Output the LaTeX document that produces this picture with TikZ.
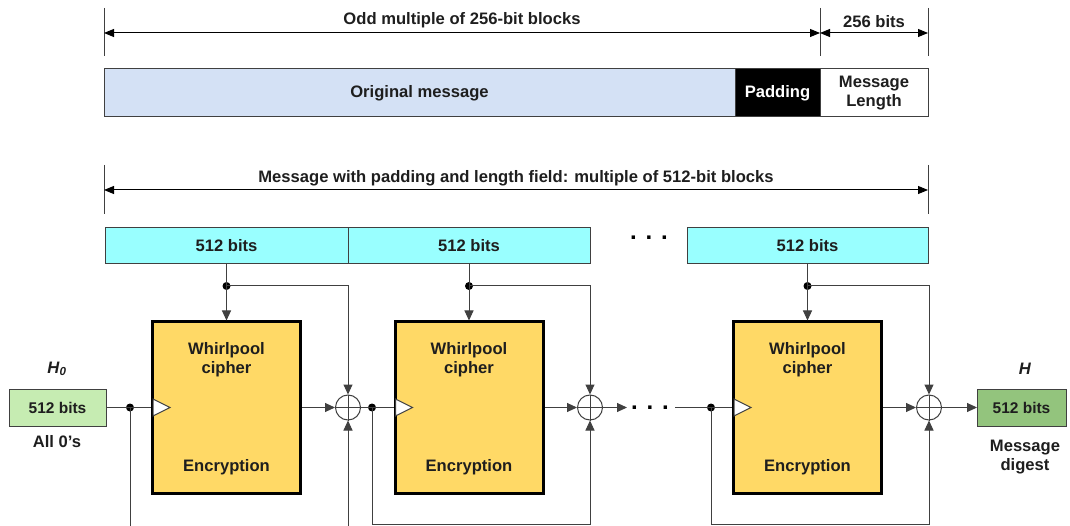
\documentclass[tikz,border=0pt]{standalone}
\usepackage{fontspec}
\setmainfont{Liberation Sans}
\usetikzlibrary{arrows.meta}
\definecolor{msgblue}{RGB}{212,225,245}
\definecolor{blkcyan}{RGB}{153,255,255}
\definecolor{ciph}{RGB}{255,217,102}
\definecolor{hzero}{RGB}{198,236,178}
\definecolor{hfin}{RGB}{147,196,125}
\definecolor{ln}{RGB}{64,64,64}
\definecolor{txt}{RGB}{30,30,30}
\begin{document}
\begin{tikzpicture}[x=1pt,y=-1pt,
  font=\fontsize{16.6}{19}\selectfont\bfseries,
  tip/.style={-{Triangle[length=10pt,width=9pt]}},
  dim/.style={{Triangle[length=10pt,width=8pt]}-{Triangle[length=10pt,width=8pt]}, line width=1pt, draw=black},
  wire/.style={draw=ln, line width=1pt},
  tick/.style={draw=ln, line width=1pt},
  field/.style={draw=ln, line width=1pt, inner sep=0pt, outer sep=0pt, anchor=north west, align=center, text=txt},
  cipher/.style={draw=black, line width=3pt, fill=ciph, minimum width=148pt, minimum height=171pt, inner sep=0pt},
  xor/.style={circle, draw=ln, line width=1pt, minimum size=25pt, inner sep=0pt},
  dot/.style={circle, fill=black, inner sep=0pt, minimum size=8pt},
  lbl/.style={text=txt, align=center, inner sep=0pt},
  gap/.style={text=black, inner sep=0pt, font=\fontsize{24}{24}\selectfont\bfseries},
]
\useasboundingbox (0,0) rectangle (1070,526);
\clip (0,0) rectangle (1070,526);

% ---------- top dimension lines ----------
\coordinate (t1a) at (104,8);  \coordinate (t1b) at (104,56);
\coordinate (t2a) at (820,8);  \coordinate (t2b) at (820,56);
\coordinate (t3a) at (928,8);  \coordinate (t3b) at (928,56);
\draw[tick] (t1a) -- (t1b);
\draw[tick] (t2a) -- (t2b);
\draw[tick] (t3a) -- (t3b);
\coordinate (a1) at (104,33); \coordinate (a2) at (820,33); \coordinate (a3) at (928,33);
\draw[dim] (a1) -- (a2) node[lbl, midway, above=5pt] (la1) {Odd multiple of 256-bit blocks};
\draw[dim] (a2) -- (a3) node[lbl, midway, above=5pt] (la2) {256 bits};

% ---------- message bar ----------
\node[field, fill=msgblue, minimum width=631pt, minimum height=48pt] (orig) at (104,69) {Original message};
\node[field, fill=black, text=white, minimum width=85pt, minimum height=48pt] (pad) at (735,69) {Padding};
\node[field, fill=white, minimum width=108pt, minimum height=48pt] (mlen) at (820,69) {Message\\Length};

% ---------- second dimension line ----------
\coordinate (t4a) at (104,165); \coordinate (t4b) at (104,214);
\coordinate (t5a) at (928,165); \coordinate (t5b) at (928,214);
\draw[tick] (t4a) -- (t4b);
\draw[tick] (t5a) -- (t5b);
\coordinate (a4) at (104,190); \coordinate (a5) at (928,190);
\draw[dim] (a4) -- (a5) node[lbl, midway, above=3pt] (la3) {Message with padding and length field: multiple of 512-bit blocks};

% ---------- 512-bit blocks ----------
\node[field, fill=blkcyan, minimum width=243pt, minimum height=36pt] (b1) at (105,228) {512 bits};
\node[field, fill=blkcyan, minimum width=242pt, minimum height=36pt] (b2) at (348,228) {512 bits};
\node[field, fill=blkcyan, minimum width=241pt, minimum height=36pt] (b3) at (687,228) {512 bits};
\node[gap] (gdots1) at (649,238) {. . .};

% ---------- cipher boxes ----------
\node[cipher] (c1) at (226.5,407.5) {};
\node[cipher] (c2) at (469,407.5) {};
\node[cipher] (c3) at (807.5,407.5) {};
\node[lbl] (c1w) at (226.5,360) {Whirlpool\\cipher};
\node[lbl] (c2w) at (469,360) {Whirlpool\\cipher};
\node[lbl] (c3w) at (807.5,360) {Whirlpool\\cipher};
\node[lbl] (c1e) at (226.5,467) {Encryption};
\node[lbl] (c2e) at (469,467) {Encryption};
\node[lbl] (c3e) at (807.5,467) {Encryption};
\draw[fill=white, draw=ln, line width=1pt] (153,399) -- (170,407.5) -- (153,416) -- cycle;
\draw[fill=white, draw=ln, line width=1pt] (395.5,399) -- (412.5,407.5) -- (395.5,416) -- cycle;
\draw[fill=white, draw=ln, line width=1pt] (734,399) -- (751,407.5) -- (734,416) -- cycle;

% ---------- XOR nodes ----------
\node[xor] (x1) at (348,407.5) {};
\node[xor] (x2) at (590,407.5) {};
\node[xor] (x3) at (929,407.5) {};
\foreach \x in {x1,x2,x3}{
  \draw[wire] (\x.north) -- (\x.south);
  \draw[wire] (\x.west) -- (\x.east);
}

% ---------- input / output ----------
\node[field, fill=hzero, minimum width=97pt, minimum height=37pt] (h0) at (9,389) {\fontsize{15.5}{18}\selectfont 512 bits};
\node[field, fill=hfin, minimum width=89pt, minimum height=37pt] (hf) at (977,389) {\fontsize{15.5}{18}\selectfont 512 bits};
\node[lbl] (h0l) at (57,369) {\textit{H}\textsubscript{\textit{0}}};
\node[lbl] (h0z) at (57,442) {All 0's};
\node[lbl] (hfl) at (1025,369) {\textit{H}};
\node[lbl] (hfd) at (1025,457) {Message\\digest};

% ---------- junction dots ----------
\node[dot] (j1) at (226.5,286) {};
\node[dot] (j2) at (469,286) {};
\node[dot] (j3) at (807.5,286) {};
\node[dot] (d1) at (130,407.5) {};
\node[dot] (d2) at (372,407.5) {};
\node[dot] (d3) at (711,407.5) {};

% ---------- key feeds ----------
\coordinate (r1) at (348,286);
\coordinate (r2) at (590,286);
\coordinate (r3) at (929,286);
\draw[wire] (b1.south) -- (j1.center);
\draw[wire] (b2.south) -- (j2.center);
\draw[wire] (b3.south) -- (j3.center);
\draw[wire, tip] (j1.center) -- (c1.north);
\draw[wire, tip] (j2.center) -- (c2.north);
\draw[wire, tip] (j3.center) -- (c3.north);
\draw[wire, tip] (j1.center) -- (r1) -- (x1.north);
\draw[wire, tip] (j2.center) -- (r2) -- (x2.north);
\draw[wire, tip] (j3.center) -- (r3) -- (x3.north);

% ---------- chaining path ----------
\draw[wire] (h0.east) -- (d1.center) -- (c1.west);
\draw[wire, tip] (c1.east) -- (x1.west);
\draw[wire] (x1.east) -- (d2.center) -- (c2.west);
\draw[wire, tip] (c2.east) -- (x2.west);
\coordinate (g1) at (627,407.5);
\coordinate (g2) at (675,407.5);
\draw[wire, tip] (x2.east) -- (g1);
\node[gap] (gdots2) at (650,407.5) {. . .};
\draw[wire] (g2) -- (d3.center) -- (c3.west);
\draw[wire, tip] (c3.east) -- (x3.west);
\draw[wire, tip] (x3.east) -- (hf.west);

% ---------- feed-forward loops ----------
\coordinate (l1a) at (130,545); \coordinate (l1b) at (348,545);
\coordinate (l2a) at (372,524); \coordinate (l2b) at (590,524);
\coordinate (l3a) at (711,524); \coordinate (l3b) at (929,524);
\draw[wire, tip] (d1.center) -- (l1a) -- (l1b) -- (x1.south);
\draw[wire, tip] (d2.center) -- (l2a) -- (l2b) -- (x2.south);
\draw[wire, tip] (d3.center) -- (l3a) -- (l3b) -- (x3.south);
\end{tikzpicture}
\end{document}
